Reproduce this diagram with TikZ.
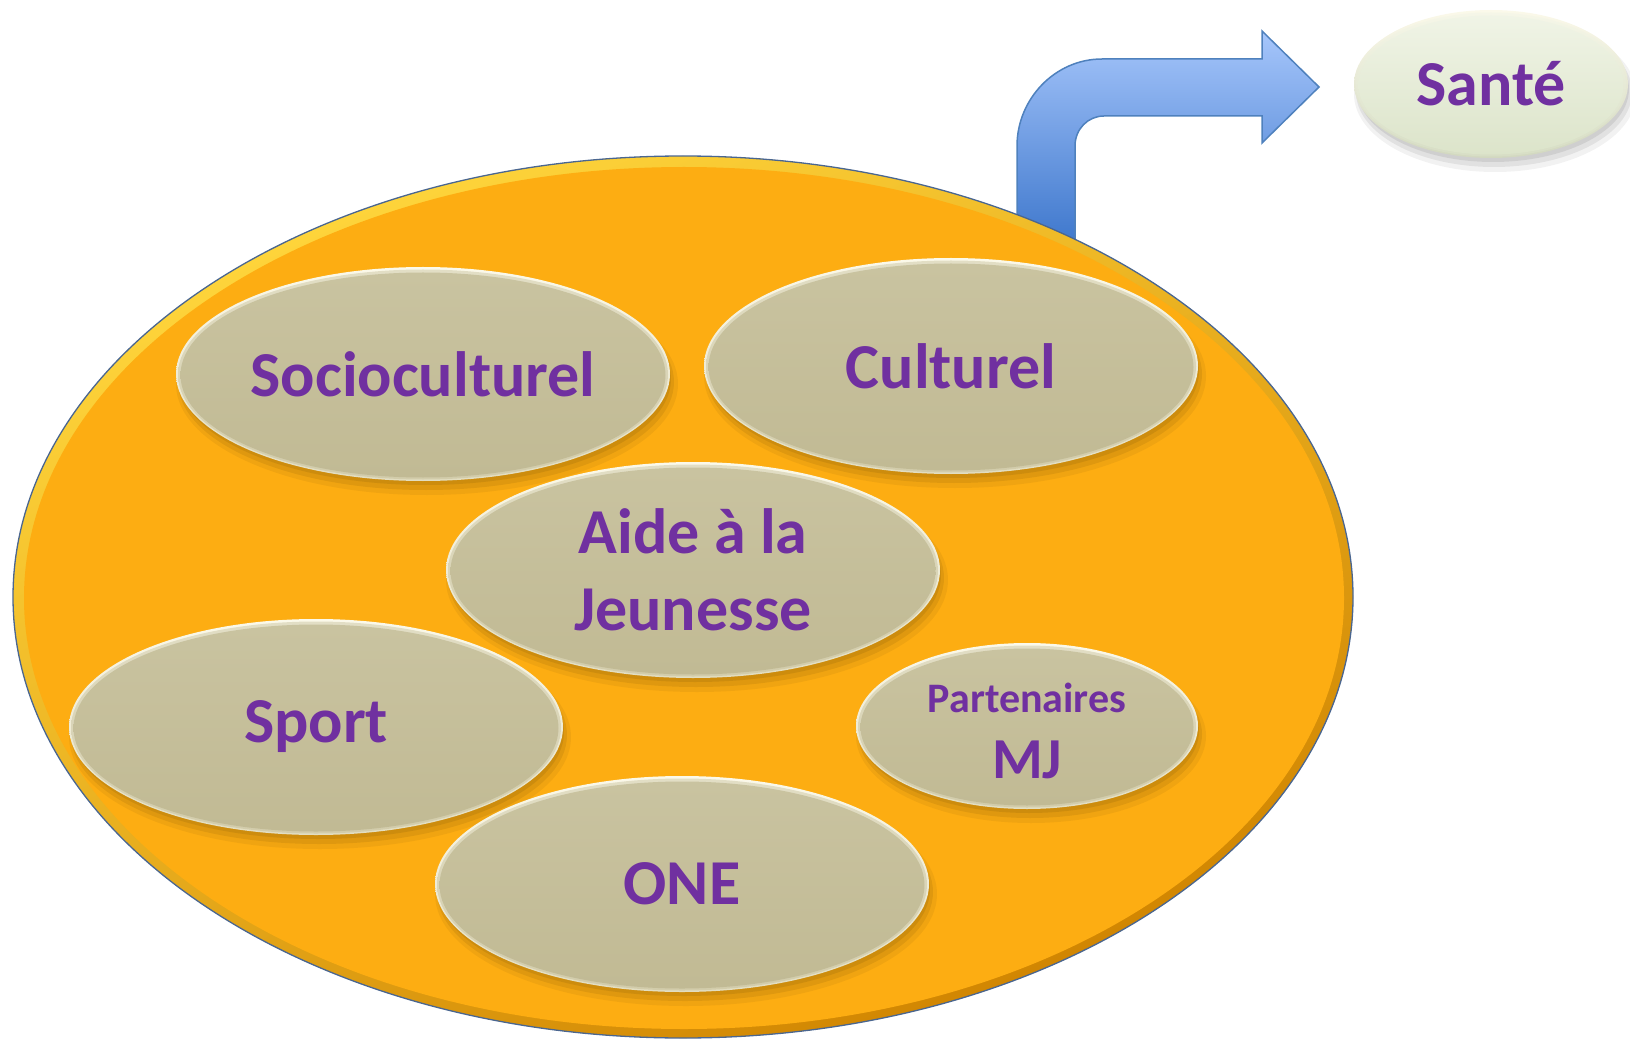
\documentclass[tikz,border=0pt]{standalone}
\usepackage{fontspec}
\setmainfont{Carlito}
\usetikzlibrary{shapes.geometric}
\definecolor{orng}{HTML}{FDAD12}
\definecolor{orngtop}{HTML}{FFD63C}
\definecolor{orngbot}{HTML}{D08400}
\definecolor{edgeblue}{HTML}{4A6690}
\definecolor{khakitop}{HTML}{C9C3A0}
\definecolor{khakibot}{HTML}{C1BA94}
\definecolor{rimtop}{HTML}{FBF9EA}
\definecolor{rimbot}{HTML}{E2DDC0}
\definecolor{purp}{HTML}{7030A0}
\definecolor{santetop}{HTML}{F0F4E6}
\definecolor{santebot}{HTML}{DCE4CA}
\definecolor{santerim}{HTML}{D2D8C0}
\definecolor{arrtop}{HTML}{A6C6FB}
\definecolor{arrbot}{HTML}{3B75CB}
\definecolor{arredge}{HTML}{4F81BD}
\tikzset{
  bubtext/.style={ellipse, draw=none, align=center, text=purp,
    font=\fontsize{64}{77}\selectfont\bfseries, inner sep=0pt},
}
% #1 name, #2 x, #3 y, #4 rx, #5 ry, #6 inner top, #7 inner bottom, #8 rim bottom, #9 text
\newcommand\mybubble[9]{%
  \fill[black,opacity=0.05] (#2+4,#3+10) ellipse[x radius=#4pt+4pt, y radius=#5pt+4pt];
  \fill[black,opacity=0.07] (#2+3,#3+8) ellipse[x radius=#4pt+1pt, y radius=#5pt+1pt];
  \fill[black,opacity=0.08] (#2+2,#3+5) ellipse[x radius=#4pt-1pt, y radius=#5pt-1pt];
  \path[top color=rimtop, bottom color=#8] (#2,#3) ellipse[x radius=#4pt, y radius=#5pt];
  \path[top color=rimtop!50!#6, bottom color=#8!50!#7] (#2,#3+0.5) ellipse[x radius=#4pt-2pt, y radius=#5pt-2pt];
  \path[top color=#6, bottom color=#7] (#2,#3+1) ellipse[x radius=#4pt-4.5pt, y radius=#5pt-4.5pt];
  \node[bubtext, minimum width=2*#4pt, minimum height=2*#5pt] (#1) at (#2,#3) {#9};
}
\begin{document}
\begin{tikzpicture}[x=1pt,y=-1pt]
\useasboundingbox (0,0) rectangle (1630,1040);
% arrow (behind the main ellipse)
\coordinate (ab1) at (1017,250);
\coordinate (ab2) at (1075,250);
\path[draw=arredge, line width=1.5pt, top color=arrtop, bottom color=arrbot]
  (ab1) -- (1017,146) .. controls (1017,99) and (1055,59) .. (1102,59)
  -- (1262,59) -- (1262,31) -- (1319,87) -- (1262,143) -- (1262,116)
  -- (1104,116) .. controls (1088,116) and (1075,129) .. (1075,146)
  -- (ab2) -- cycle;
% main ellipse
\path[top color=orngtop, bottom color=orngbot, shading angle=25] (683,597) ellipse[x radius=670pt, y radius=441pt];
\fill[orng] (684,598) ellipse[x radius=660pt, y radius=431pt];
\draw[edgeblue, line width=1.3pt] (683,597) ellipse[x radius=670pt, y radius=441pt];
\node[ellipse, minimum width=1340pt, minimum height=882pt, draw=none] (main) at (683,597) {};
% inner bubbles
\mybubble{soc}{423}{374}{247}{107}{khakitop}{khakibot}{rimbot}{Socioculturel}
\mybubble{cult}{951}{366}{247}{108}{khakitop}{khakibot}{rimbot}{Culturel}
\mybubble{aide}{693}{570}{247}{108}{khakitop}{khakibot}{rimbot}{Aide à la\\Jeunesse}
\mybubble{sport}{316}{727}{247}{108}{khakitop}{khakibot}{rimbot}{Sport}
\mybubble{one}{682}{884}{247}{108}{khakitop}{khakibot}{rimbot}{ONE}
\mybubble{part}{1027}{726}{171}{83}{khakitop}{khakibot}{rimbot}{{\fontsize{42}{50}\selectfont\rule{0pt}{39pt}Partenaires}\\[-11pt]{\fontsize{58}{62}\selectfont MJ}}
% Santé
\mybubble{sante}{1491}{84}{137}{74}{santetop}{santebot}{santerim}{Santé}
\end{tikzpicture}
\end{document}
